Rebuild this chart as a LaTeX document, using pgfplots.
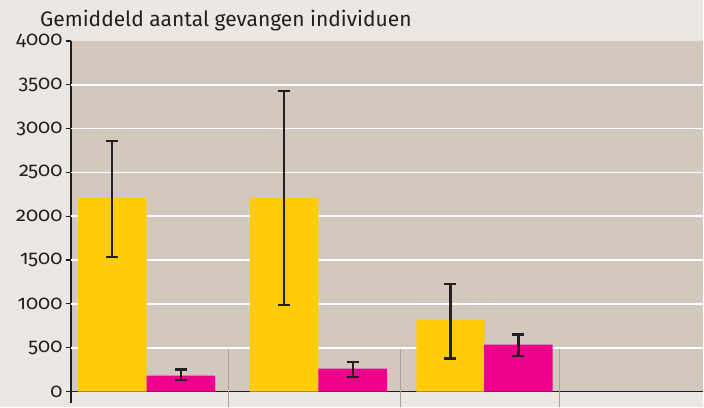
\documentclass[border=0pt]{standalone}
\usepackage{pgfplots}
\pgfplotsset{compat=1.18}
\usepackage{fontspec}
\setmainfont{Fira Sans}
\newfontfamily\numfont{Fira Sans}[RawFeature={+onum;+pnum}]
\definecolor{outerbg}{HTML}{ECE7E3}
\definecolor{plotbg}{HTML}{D2C8BE}
\definecolor{ybarc}{HTML}{FFCB0A}
\definecolor{mbarc}{HTML}{EC008C}
\definecolor{sepc}{HTML}{ADA196}
\definecolor{dark}{HTML}{231F20}
\begin{document}
\begin{tikzpicture}[x=1pt,y=1pt]
\fill[outerbg] (0,0) rectangle (704,407);
\node[anchor=base west, font=\fontsize{21}{22}\selectfont, text=dark, inner sep=0] at (40,380.3) {Gemiddeld aantal gevangen individuen};
\begin{axis}[
 at={(71pt,15pt)}, anchor=south west, scale only axis, width=633pt, height=351pt,
 xmin=71, xmax=704, ymin=0, ymax=4000,
 axis background/.style={fill=plotbg},
 axis x line=bottom, axis y line=left,
 axis line style={dark, line width=1.6pt, -},
 xtick=\empty,
 ytick={0,500,...,4000},
 tick label style={font=\numfont\fontsize{20}{22}\selectfont, text=dark},
 yticklabel={\numfont\pgfmathprintnumber[assume math mode=true, 1000 sep={}, fixed, precision=0]{\tick}},
 tick align=outside, major tick length=5pt,
 ytick style={dark, line width=1.2pt},
 extra y ticks={500,1000,...,3500}, extra y tick labels={},
 extra y tick style={grid=major, major tick length=0pt},
 grid style={white, line width=1.6pt},
 clip=false,
 ybar, bar width=68.5, bar shift=0pt,
]
\addplot[fill=ybarc, draw=none,
 error bars/.cd, y dir=both, y explicit,
 error bar style={draw=dark, line width=2.2pt},
 error mark options={draw=dark, rotate=90, mark size=6pt, line width=2.2pt}] coordinates {
 (112.5,2211) += (0,649) -= (0,673)
 (284.5,2211) += (0,1219) -= (0,1220)
 (451,820) += (0,411) -= (0,444)
};
\addplot[fill=mbarc, draw=none,
 error bars/.cd, y dir=both, y explicit,
 error bar style={draw=dark, line width=2.2pt},
 error mark options={draw=dark, rotate=90, mark size=6pt, line width=2.2pt}] coordinates {
 (181,182) += (0,69) -= (0,49)
 (353,262) += (0,72) -= (0,99)
 (519,536) += (0,114) -= (0,126)
};
\draw[sepc, line width=1pt] (axis cs:229,480) -- (axis cs:229,-171);
\draw[sepc, line width=1pt] (axis cs:401,480) -- (axis cs:401,-171);
\draw[sepc, line width=1pt] (axis cs:560,480) -- (axis cs:560,-171);
\draw[dark, line width=1.6pt] (axis cs:71,0) -- (axis cs:71,-125);
\end{axis}
\end{tikzpicture}
\end{document}
